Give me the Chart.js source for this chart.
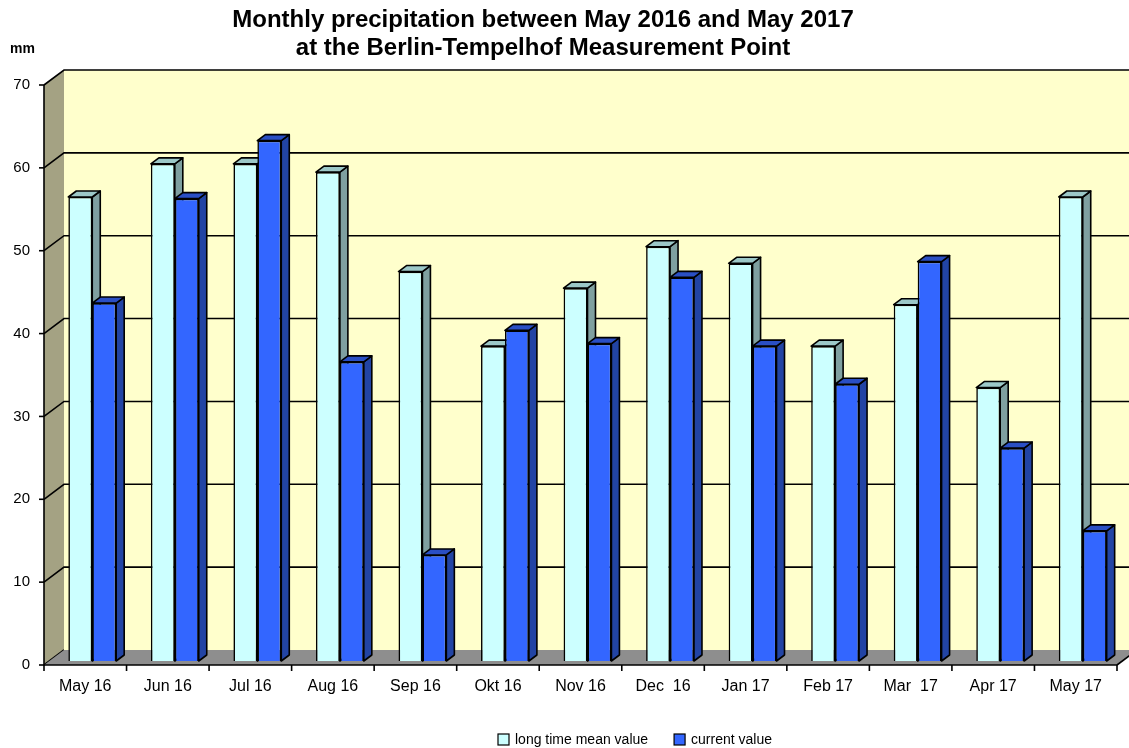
<!DOCTYPE html>
<html>
<head>
<meta charset="utf-8">
<title>Monthly precipitation Berlin-Tempelhof</title>
<script src="https://cdn.jsdelivr.net/npm/chart.js@4.4.1/dist/chart.umd.min.js"></script>
<style>
  html, body { margin: 0; padding: 0; background: #ffffff; }
  #wrap { width: 1129px; height: 748px; }
</style>
</head>
<body>
<div id="wrap"><canvas id="chart" width="1129" height="748"></canvas></div>
<script>
// month labels as printed under the bars
const months = ['May 16', 'Jun 16', 'Jul 16', 'Aug 16', 'Sep 16', 'Okt 16', 'Nov 16',
                'Dec  16', 'Jan 17', 'Feb 17', 'Mar  17', 'Apr 17', 'May 17'];
// mm
const meanValues = [56, 60, 60, 59, 47, 38, 45, 50, 48, 38, 43, 33, 56];
const currentValues = [43.2, 55.8, 62.8, 36.1, 12.8, 39.9, 38.3, 46.3, 38.0, 33.4, 48.2, 25.7, 15.7];
const yTicks = [0, 10, 20, 30, 40, 50, 60, 70];
const titleLines = ['Monthly precipitation between May 2016 and May 2017',
                    'at the Berlin-Tempelhof Measurement Point'];
const seriesNames = ['long time mean value', 'current value'];

// 3D look: offsets of front plane / back wall relative to the bar plane
const FRONT = { dx: -7, dy: 4 };
const BACK = { dx: 13, dy: -11 };
const BAR_D = { dx: 8, dy: -6 };

const faceColors = [
    { side: '#7fa0a0', top: '#9cc8c8' },
    { side: '#2244a4', top: '#2a4fc4' }
];

const depth3d = {
    id: 'depth3d',
    beforeDatasetsDraw(chart) {
        const { ctx, chartArea: a, scales: { x, y } } = chart;
        const W = chart.width;
        const y0 = y.getPixelForValue(0);
        const yTop = y.getPixelForValue(70);
        ctx.save();
        ctx.lineWidth = 1.6;
        ctx.strokeStyle = '#000';

        // back wall
        ctx.fillStyle = '#ffffcc';
        ctx.fillRect(a.left + BACK.dx, yTop + BACK.dy, W - a.left - BACK.dx, y0 - yTop);

        // side wall
        ctx.fillStyle = '#a4a283';
        ctx.beginPath();
        ctx.moveTo(a.left + FRONT.dx, y0 + FRONT.dy);
        ctx.lineTo(a.left + FRONT.dx, yTop + FRONT.dy);
        ctx.lineTo(a.left + BACK.dx, yTop + BACK.dy);
        ctx.lineTo(a.left + BACK.dx, y0 + BACK.dy);
        ctx.closePath();
        ctx.fill();

        // gridlines on side wall + back wall
        yTicks.forEach(v => {
            const py = y.getPixelForValue(v);
            ctx.beginPath();
            ctx.moveTo(a.left + FRONT.dx, py + FRONT.dy);
            ctx.lineTo(a.left + BACK.dx, py + BACK.dy);
            if (v > 0) ctx.lineTo(W, py + BACK.dy);
            ctx.stroke();
            // small tick on the front axis
            ctx.beginPath();
            ctx.moveTo(a.left + FRONT.dx - 5, py + FRONT.dy);
            ctx.lineTo(a.left + FRONT.dx, py + FRONT.dy);
            ctx.stroke();
        });

        // floor
        ctx.fillStyle = '#8e8e8e';
        ctx.beginPath();
        ctx.moveTo(a.left + FRONT.dx, y0 + FRONT.dy);
        ctx.lineTo(a.right + FRONT.dx, y0 + FRONT.dy);
        ctx.lineTo(a.right + BACK.dx, y0 + BACK.dy);
        ctx.lineTo(a.left + BACK.dx, y0 + BACK.dy);
        ctx.closePath();
        ctx.fill();
        ctx.beginPath();
        ctx.moveTo(a.right + FRONT.dx, y0 + FRONT.dy);
        ctx.lineTo(a.right + BACK.dx, y0 + BACK.dy);
        ctx.stroke();

        // front axes
        ctx.beginPath();
        ctx.moveTo(a.left + FRONT.dx, yTop + FRONT.dy);
        ctx.lineTo(a.left + FRONT.dx, y0 + FRONT.dy);
        ctx.lineTo(a.right + FRONT.dx, y0 + FRONT.dy);
        ctx.stroke();
        const step = x.getPixelForValue(1) - x.getPixelForValue(0);
        for (let i = 0; i <= months.length; i++) {
            const px = x.getPixelForValue(0) - step / 2 + i * step + FRONT.dx;
            ctx.beginPath();
            ctx.moveTo(px, y0 + FRONT.dy);
            ctx.lineTo(px, y0 + FRONT.dy + 6);
            ctx.stroke();
        }

        // side and top faces of bars (front faces are drawn by Chart.js)
        ctx.lineJoin = 'round';
        for (let i = 0; i < months.length; i++) {
            chart.data.datasets.forEach((ds, d) => {
                const el = chart.getDatasetMeta(d).data[i];
                const xl = el.x - el.width / 2;
                const xr = el.x + el.width / 2;
                const top = el.y;
                const base = el.base;
                ctx.fillStyle = faceColors[d].side;
                ctx.beginPath();
                ctx.moveTo(xr, top);
                ctx.lineTo(xr + BAR_D.dx, top + BAR_D.dy);
                ctx.lineTo(xr + BAR_D.dx, base + BAR_D.dy);
                ctx.lineTo(xr, base);
                ctx.closePath();
                ctx.fill();
                ctx.stroke();
                ctx.fillStyle = faceColors[d].top;
                ctx.beginPath();
                ctx.moveTo(xl, top);
                ctx.lineTo(xl + BAR_D.dx, top + BAR_D.dy);
                ctx.lineTo(xr + BAR_D.dx, top + BAR_D.dy);
                ctx.lineTo(xr, top);
                ctx.closePath();
                ctx.fill();
                ctx.stroke();
            });
        }
        ctx.restore();
    },
    afterDraw(chart) {
        const ctx = chart.ctx;
        ctx.save();
        ctx.fillStyle = '#000';
        ctx.textAlign = 'center';
        ctx.textBaseline = 'middle';
        ctx.font = 'bold 24px "Liberation Sans", Arial, sans-serif';
        ctx.fillText(titleLines[0], 543, 20);
        ctx.fillText(titleLines[1], 543, 48);
        ctx.font = 'bold 14px "Liberation Sans", Arial, sans-serif';
        ctx.textAlign = 'left';
        ctx.fillText('mm', 10, 49);

        // legend
        ctx.font = '14px "Liberation Sans", Arial, sans-serif';
        ctx.lineWidth = 1.2;
        let lx = 498;
        const ly = 740;
        chart.data.datasets.forEach((ds, d) => {
            ctx.fillStyle = ds.backgroundColor;
            ctx.fillRect(lx, ly - 6, 11, 11);
            ctx.strokeStyle = '#000';
            ctx.strokeRect(lx, ly - 6, 11, 11);
            ctx.fillStyle = '#000';
            ctx.fillText(seriesNames[d], lx + 17, ly);
            lx += 17 + ctx.measureText(seriesNames[d]).width + 26;
        });
        ctx.restore();
    }
};

new Chart(document.getElementById('chart'), {
    type: 'bar',
    data: {
        labels: months,
        datasets: [{
            label: seriesNames[0],
            data: meanValues,
            backgroundColor: '#ccffff',
            borderColor: '#000000',
            borderWidth: 1.6,
            categoryPercentage: 0.58,
            barPercentage: 1.0
        }, {
            label: seriesNames[1],
            data: currentValues,
            backgroundColor: '#3366ff',
            borderColor: '#000000',
            borderWidth: 1.6,
            categoryPercentage: 0.58,
            barPercentage: 1.0
        }]
    },
    options: {
        responsive: false,
        animation: false,
        layout: { padding: { top: 81, right: 5, bottom: 0, left: 0 } },
        plugins: {
            legend: { display: false },
            title: { display: false },
            tooltip: { enabled: false }
        },
        scales: {
            x: {
                grid: { display: false, drawTicks: false },
                border: { display: false },
                ticks: {
                    color: '#000',
                    font: { family: '"Liberation Sans", Arial, sans-serif', size: 16 },
                    padding: 16,
                    labelOffset: -7,
                    maxRotation: 0,
                    autoSkip: false
                },
                afterFit(scale) { scale.height = 87; }
            },
            y: {
                min: 0,
                max: 70,
                grid: { display: false, drawTicks: false },
                border: { display: false },
                ticks: {
                    stepSize: 10,
                    color: '#000',
                    font: { family: '"Liberation Sans", Arial, sans-serif', size: 15 },
                    padding: 21,
                    labelOffset: 4
                },
                afterFit(scale) { scale.width = 51; }
            }
        }
    },
    plugins: [depth3d]
});
</script>
</body>
</html>
